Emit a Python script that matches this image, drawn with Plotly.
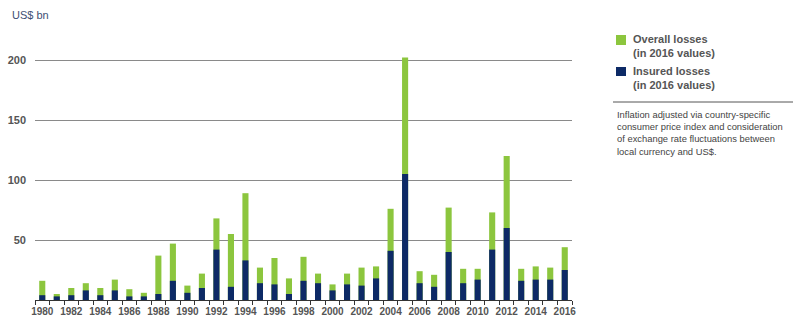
import plotly.graph_objects as go

years = list(range(1980, 2017))
overall_losses = [16, 5, 10, 14, 10, 17, 9, 6, 37, 47, 12,
                  22, 68, 55, 89, 27, 35, 18, 36, 22, 13,
                  22, 27, 28, 76, 202, 24, 21, 77, 26, 26,
                  73, 120, 26, 28, 27, 44]
insured_losses = [4, 3, 4, 8, 4, 8, 3, 3, 5, 16, 6,
                  10, 42, 11, 33, 14, 13, 5, 16, 14, 8,
                  13, 12, 18, 41, 105, 14, 11, 40, 14, 17,
                  42, 60, 16, 17, 17, 25]
x_tick_years = list(range(1980, 2017, 2))
y_ticks = [50, 100, 150, 200]

GREEN = "#8cc63e"
NAVY = "#0d2a66"
TXT = "#555555"
FONT = "Liberation Sans, Arial, sans-serif"

L, R, T, B = 35, 225, 48, 19
PW, PH = 797 - L - R, 319 - T - B


def px_x(px):
    return (px - L) / PW


def px_y(py):
    return (319 - B - py) / PH


fig = go.Figure()
fig.add_trace(go.Bar(x=years, y=overall_losses, width=0.42, marker=dict(color=GREEN, line=dict(width=0)),
                     name="Overall losses", showlegend=False))
fig.add_trace(go.Bar(x=years, y=insured_losses, width=0.42, marker=dict(color=NAVY, line=dict(width=0)),
                     name="Insured losses", showlegend=False))

fig.update_layout(
    width=797, height=319,
    margin=dict(l=L, r=R, t=T, b=B),
    barmode="overlay",
    paper_bgcolor="white", plot_bgcolor="white",
    font=dict(family=FONT, color=TXT),
    xaxis=dict(
        range=[1979.5, 2016.5], tickmode="array", tickvals=x_tick_years,
        ticktext=["<b>%d</b>" % y for y in x_tick_years],
        tickfont=dict(size=10, color="#555555", family=FONT),
        showgrid=False, zeroline=False, showline=True, linecolor="#333333", linewidth=1,
        ticks="", ticklabelstandoff=2, automargin=False,
        minor=dict(tickvals=[y + 0.5 for y in range(1979, 2017)], ticks="outside", ticklen=4,
                   tickcolor="#333333", tickwidth=1, showgrid=False),
    ),
    yaxis=dict(
        range=[0, 210], tickmode="array", tickvals=y_ticks, ticktext=["<b>%d</b>" % v for v in y_ticks],
        tickfont=dict(size=11, color="#555555", family=FONT),
        showgrid=True, gridcolor="#8a8a8a", gridwidth=1, zeroline=False, showline=False,
        ticks="", ticklabelstandoff=8, automargin=False,
    ),
)

fig.add_annotation(text="US$ bn", xref="paper", yref="paper", x=px_x(10), y=px_y(15),
                   xanchor="left", yanchor="middle", showarrow=False,
                   font=dict(size=11, color="#3d4f73", family=FONT))

# legend (manual)
fig.add_shape(type="rect", xref="paper", yref="paper", x0=px_x(616), x1=px_x(626), y0=px_y(45), y1=px_y(35),
              fillcolor=GREEN, line=dict(width=0))
fig.add_shape(type="rect", xref="paper", yref="paper", x0=px_x(616), x1=px_x(626), y0=px_y(76), y1=px_y(67),
              fillcolor=NAVY, line=dict(width=0))
fig.add_annotation(text="<b>Overall losses<br>(in 2016 values)</b>", xref="paper", yref="paper",
                   x=px_x(631), y=px_y(31), xanchor="left", yanchor="top", align="left", showarrow=False,
                   font=dict(size=11, color=TXT, family=FONT))
fig.add_annotation(text="<b>Insured losses<br>(in 2016 values)</b>", xref="paper", yref="paper",
                   x=px_x(631), y=px_y(63), xanchor="left", yanchor="top", align="left", showarrow=False,
                   font=dict(size=11, color=TXT, family=FONT))
fig.add_shape(type="line", xref="paper", yref="paper", x0=px_x(613), x1=px_x(793), y0=px_y(102), y1=px_y(102),
              line=dict(color="#555555", width=1))
fig.add_annotation(text="Inflation adjusted via country-specific<br>consumer price index and consideration<br>"
                        "of exchange rate fluctuations between<br>local currency and US$.",
                   xref="paper", yref="paper", x=px_x(615), y=px_y(107), xanchor="left", yanchor="top",
                   align="left", showarrow=False, font=dict(size=9.4, color="#444444", family=FONT))

fig.write_html("out.html")
